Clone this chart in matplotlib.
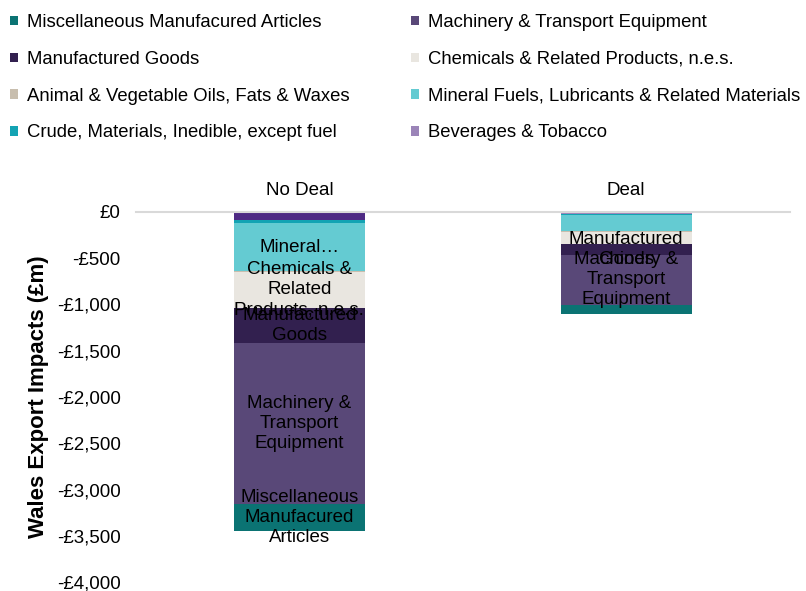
import matplotlib
matplotlib.use("Agg")
import matplotlib.pyplot as plt
from matplotlib.patches import Patch
from matplotlib.ticker import FuncFormatter

plt.rcParams['font.family'] = ['Liberation Sans', 'DejaVu Sans']

# ---- data ----
scenarios = ["No Deal", "Deal"]
series_names = [
    "Food & Live Animals",
    "Beverages & Tobacco",
    "Crude, Materials, Inedible, except fuel",
    "Mineral Fuels, Lubricants & Related Materials",
    "Animal & Vegetable Oils, Fats & Waxes",
    "Chemicals & Related Products, n.e.s.",
    "Manufactured Goods",
    "Machinery & Transport Equipment",
    "Miscellaneous Manufacured Articles",
]
food = [-85, -15]
beverages = [-5, -3]
crude = [-30, -10]
mineral = [-520, -180]
animal = [-5, -3]
chemicals = [-390, -130]
manufactured = [-380, -120]
machinery = [-1740, -540]
misc = [-290, -100]
values = [food, beverages, crude, mineral, animal, chemicals, manufactured, machinery, misc]

colors = ["#4E2A84", "#9B84B8", "#13A3B3", "#64CBD2", "#C8BEAE",
          "#E9E6E0", "#32204F", "#594878", "#0B7373"]

# data labels shown (per series, per scenario)
bar_labels = {
    "Mineral Fuels, Lubricants & Related Materials": ["Mineral…", ""],
    "Chemicals & Related Products, n.e.s.": ["Chemicals &\nRelated\nProducts, n.e.s.", ""],
    "Manufactured Goods": ["Manufactured\nGoods", "Manufactured\nGoods"],
    "Machinery & Transport Equipment": ["Machinery &\nTransport\nEquipment", "Machinery &\nTransport\nEquipment"],
    "Miscellaneous Manufacured Articles": ["Miscellaneous\nManufacured\nArticles", ""],
}

legend_col1 = ["Miscellaneous Manufacured Articles", "Manufactured Goods",
               "Animal & Vegetable Oils, Fats & Waxes", "Crude, Materials, Inedible, except fuel"]
legend_col2 = ["Machinery & Transport Equipment", "Chemicals & Related Products, n.e.s.",
               "Mineral Fuels, Lubricants & Related Materials", "Beverages & Tobacco"]

yticks = [0, -500, -1000, -1500, -2000, -2500, -3000, -3500, -4000]

# ---- figure ----
fig = plt.figure(figsize=(8.06, 5.91), dpi=100)
ax = fig.add_axes([0.1687, 0.0152, 0.811, 0.6261])

x = list(range(len(scenarios)))
bottom = [0.0] * len(scenarios)
for name, vals, col in zip(series_names, values, colors):
    bc = ax.bar(x, vals, width=0.4, bottom=bottom, color=col, label=name, linewidth=0)
    if name in bar_labels:
        ax.bar_label(bc, labels=bar_labels[name], label_type='center',
                     fontsize=13.5, color='black', linespacing=1.22)
    bottom = [b + v for b, v in zip(bottom, vals)]

ax.set_xlim(-0.5, 1.5)
ax.set_ylim(-4000, 0)
ax.set_yticks(yticks)
ax.yaxis.set_major_formatter(FuncFormatter(
    lambda v, p: "£0" if v == 0 else ("-£{:,.0f}".format(-v) if v < 0 else "£{:,.0f}".format(v))))
ax.tick_params(axis='y', length=0, pad=11, labelsize=13.5)
ax.xaxis.tick_top()
ax.set_xticks(x)
ax.set_xticklabels(scenarios)
ax.tick_params(axis='x', length=0, pad=9, labelsize=13.5)

for s in ['left', 'right', 'bottom']:
    ax.spines[s].set_visible(False)
ax.spines['top'].set_color('#D9D9D9')
ax.spines['top'].set_linewidth(1.5)

ax.set_ylabel("Wales Export Impacts (£m)", fontsize=16, fontweight='bold')
ax.yaxis.set_label_coords(-0.133, 0.5)

color_map = dict(zip(series_names, colors))

def make_legend(names, xpos):
    handles = [Patch(facecolor=color_map[n], edgecolor='none') for n in names]
    leg = fig.legend(handles, names, loc='upper left', bbox_to_anchor=(xpos, 0.976),
                     frameon=False, fontsize=13.3, handlelength=0.42, handleheight=0.42,
                     handletextpad=0.5, labelspacing=1.07, borderpad=0, borderaxespad=0)
    return leg

make_legend(legend_col1, 0.0125)
make_legend(legend_col2, 0.5105)

fig.savefig("out.png", dpi=100)
